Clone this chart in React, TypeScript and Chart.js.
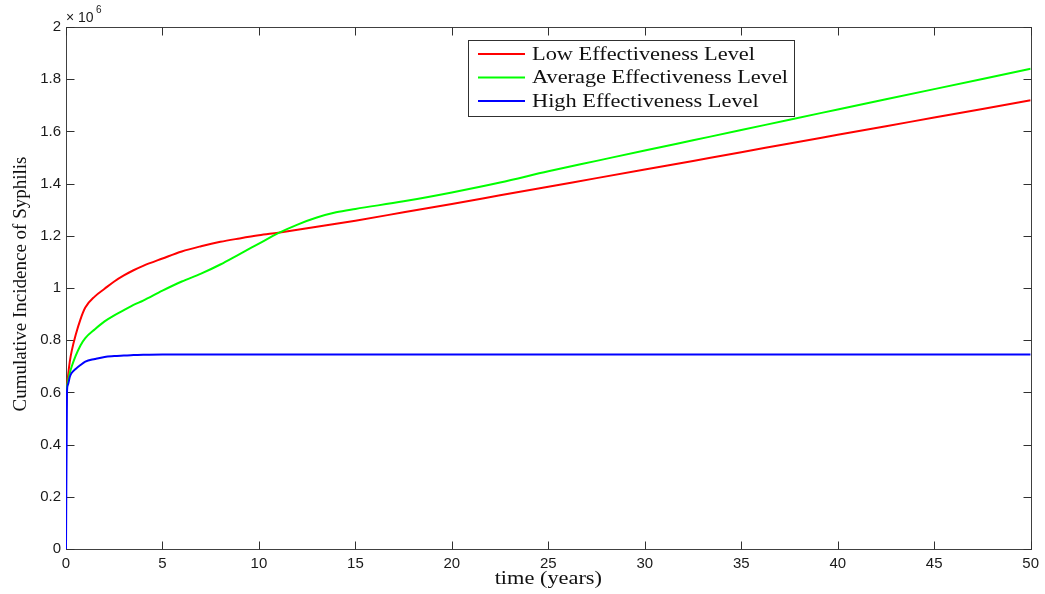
import React, { useEffect, useRef } from "react";
import { Chart, registerables } from "chart.js";

Chart.register(...registerables);

// time in years
const times = [0, 0.05, 0.1, 0.2, 0.3, 0.5, 0.75, 1, 1.5, 2, 2.5, 3, 3.5, 4, 5, 6, 7, 8, 9, 10, 11, 12, 13, 14, 15, 17.5, 20, 22.5, 25, 27.5, 30, 32.5, 35, 37.5, 40, 42.5, 45, 47.5, 50];

// cumulative incidence (x 10^6)
const lowLevel = [0.53, 0.62, 0.66, 0.72, 0.76, 0.82, 0.88, 0.925, 0.968, 0.997, 1.025, 1.048, 1.068, 1.085, 1.113, 1.14, 1.16, 1.177, 1.19, 1.202, 1.212, 1.223, 1.235, 1.246, 1.258, 1.29, 1.322, 1.355, 1.388, 1.421, 1.454, 1.487, 1.52, 1.554, 1.587, 1.62, 1.653, 1.686, 1.719];
const averageLevel = [0.58, 0.62, 0.64, 0.675, 0.7, 0.74, 0.78, 0.808, 0.842, 0.872, 0.895, 0.915, 0.935, 0.952, 0.99, 1.025, 1.055, 1.09, 1.13, 1.17, 1.21, 1.243, 1.27, 1.29, 1.303, 1.332, 1.366, 1.404, 1.447, 1.487, 1.527, 1.566, 1.605, 1.645, 1.684, 1.723, 1.762, 1.801, 1.84];
const highLevel = [0, 0.6, 0.63, 0.66, 0.675, 0.69, 0.705, 0.718, 0.728, 0.736, 0.739, 0.741, 0.743, 0.744, 0.745, 0.745, 0.745, 0.745, 0.745, 0.745, 0.745, 0.745, 0.745, 0.745, 0.745, 0.745, 0.745, 0.745, 0.745, 0.745, 0.745, 0.745, 0.745, 0.745, 0.745, 0.745, 0.745, 0.745, 0.745];

const seriesLabels = ["Low Effectiveness Level", "Average Effectiveness Level", "High Effectiveness Level"];
const seriesColors = ["#ff0000", "#00ff00", "#0000ff"];
const xTitle = "time (years)";
const yTitle = "Cumulative Incidence of Syphilis";

const SANS = "'Liberation Sans', Arial, sans-serif";
const SERIF = "'Liberation Serif', 'Times New Roman', serif";

const decorPlugin = {
  id: "decor",
  beforeDatasetsDraw(chart: any) {
    const ctx = chart.ctx as CanvasRenderingContext2D;
    const { left, right, top, bottom } = chart.chartArea;
    const xs = chart.scales.x;
    const ys = chart.scales.y;
    ctx.save();
    ctx.strokeStyle = "#404040";
    ctx.lineWidth = 1;
    const L = Math.round(left) + 0.5, R = Math.round(right) + 0.5, T = Math.round(top) + 0.5, B = Math.round(bottom) + 0.5;
    ctx.strokeRect(L, T, R - L, B - T);
    const tl = 8;
    ctx.strokeStyle = "#303030";
    ctx.beginPath();
    xs.ticks.forEach((t: any) => {
      const px = Math.round(xs.getPixelForValue(t.value)) + 0.5;
      ctx.moveTo(px, B); ctx.lineTo(px, B - tl);
      ctx.moveTo(px, T); ctx.lineTo(px, T + tl);
    });
    ys.ticks.forEach((t: any) => {
      const py = Math.round(ys.getPixelForValue(t.value)) + 0.5;
      ctx.moveTo(L, py); ctx.lineTo(L + tl, py);
      ctx.moveTo(R, py); ctx.lineTo(R - tl, py);
    });
    ctx.stroke();
    ctx.restore();
  },
  afterDraw(chart: any) {
    const ctx = chart.ctx as CanvasRenderingContext2D;
    const { left, right } = chart.chartArea;
    ctx.save();

    // exponent label
    ctx.fillStyle = "#1a1a1a";
    ctx.font = `14px ${SANS}`;
    ctx.textAlign = "left";
    ctx.textBaseline = "alphabetic";
    ctx.fillText("\u00d7 10", 66, 22);
    ctx.font = `10px ${SANS}`;
    ctx.fillText("6", 96, 13);

    // serif stretch
    ctx.font = `19px ${SERIF}`;
    const sx = 223 / ctx.measureText(seriesLabels[0]).width;

    // legend
    const bx = 468.5, by = 40.5, bw = 326, bh = 76;
    ctx.fillStyle = "#ffffff";
    ctx.fillRect(bx, by, bw, bh);
    ctx.strokeStyle = "#303030";
    ctx.lineWidth = 1;
    ctx.strokeRect(bx, by, bw, bh);
    const rows = [54, 77.5, 101];
    chart.data.datasets.forEach((ds: any, i: number) => {
      const y = rows[i];
      ctx.strokeStyle = ds.borderColor;
      ctx.lineWidth = 2;
      ctx.beginPath();
      ctx.moveTo(478, y); ctx.lineTo(525, y);
      ctx.stroke();
      ctx.save();
      ctx.translate(532, y);
      ctx.scale(sx, 1);
      ctx.fillStyle = "#111111";
      ctx.font = `19px ${SERIF}`;
      ctx.textAlign = "left";
      ctx.textBaseline = "middle";
      ctx.fillText(ds.label, 0, 1);
      ctx.restore();
    });

    // x title
    ctx.save();
    ctx.translate((left + right) / 2, 584);
    ctx.scale(sx, 1);
    ctx.fillStyle = "#111111";
    ctx.font = `19px ${SERIF}`;
    ctx.textAlign = "center";
    ctx.textBaseline = "alphabetic";
    ctx.fillText(xTitle, 0, 0);
    ctx.restore();

    // y title
    ctx.save();
    ctx.translate(26, 284);
    ctx.rotate(-Math.PI / 2);
    ctx.fillStyle = "#111111";
    ctx.font = `19px ${SERIF}`;
    ctx.textAlign = "center";
    ctx.textBaseline = "alphabetic";
    ctx.fillText(yTitle, 0, 0);
    ctx.restore();

    ctx.restore();
  },
};

export default function App() {
  const ref = useRef<HTMLCanvasElement | null>(null);
  useEffect(() => {
    if (!ref.current) return;
    const series = [lowLevel, averageLevel, highLevel];
    const chart = new Chart(ref.current, {
      type: "line",
      data: {
        datasets: series.map((vals, i) => ({
          label: seriesLabels[i],
          data: times.map((t, j) => ({ x: t, y: vals[j] })),
          borderColor: seriesColors[i],
          backgroundColor: seriesColors[i],
          borderWidth: 2,
          pointRadius: 0,
          cubicInterpolationMode: "monotone",
          fill: false,
          order: series.length - 1 - i,
        })),
      },
      options: {
        animation: false,
        responsive: false,
        devicePixelRatio: 1,
        layout: { padding: { top: 27, right: 12, left: 0, bottom: 0 } },
        plugins: { legend: { display: false }, tooltip: { enabled: false } },
        scales: {
          x: {
            type: "linear",
            min: 0,
            max: 50,
            grid: { display: false, drawTicks: false },
            border: { display: false },
            ticks: { stepSize: 5, padding: 6, color: "#1a1a1a", font: { family: SANS, size: 15 }, maxRotation: 0 },
            afterFit: (s: any) => { s.height = 45; },
          },
          y: {
            type: "linear",
            min: 0,
            max: 2,
            grid: { display: false, drawTicks: false },
            border: { display: false },
            ticks: {
              stepSize: 0.2,
              padding: 5,
              color: "#1a1a1a",
              font: { family: SANS, size: 15 },
              callback: (v: any) => String(Math.round(Number(v) * 10) / 10),
            },
            afterFit: (s: any) => { s.width = 66; },
          },
        },
      },
      plugins: [decorPlugin],
    });
    return () => chart.destroy();
  }, []);
  return (
    <div style={{ position: "fixed", left: 0, top: 0, width: 1045, height: 594, background: "#fff" }}>
      <canvas ref={ref} width={1045} height={594} style={{ width: 1045, height: 594, display: "block" }} />
    </div>
  );
}
